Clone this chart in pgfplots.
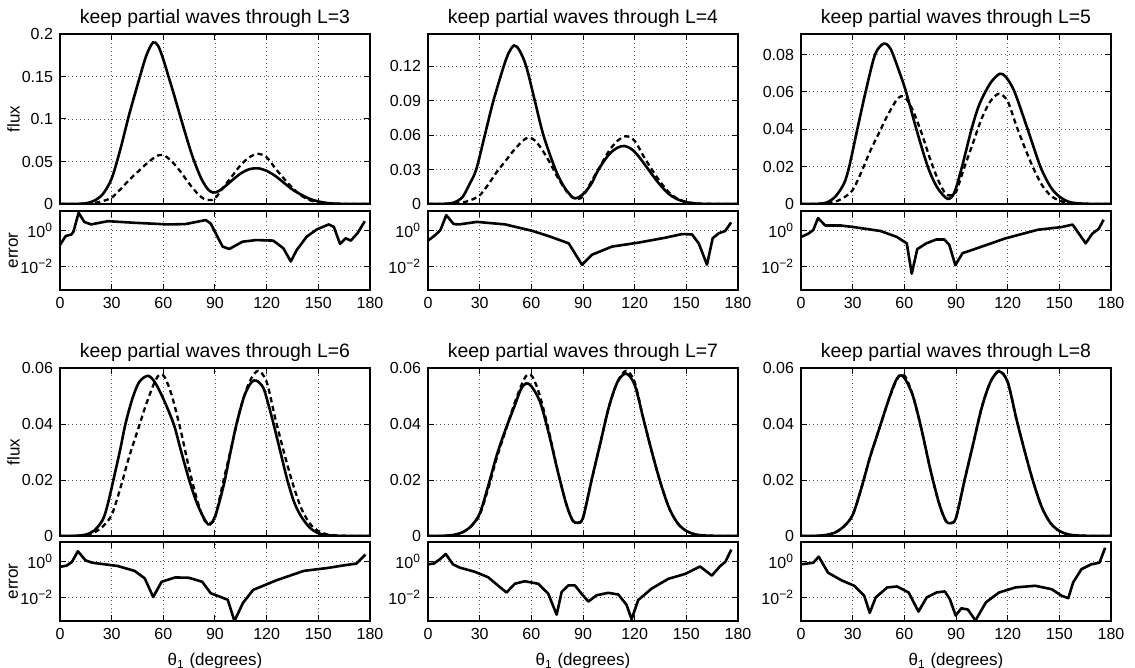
\documentclass[border=0pt]{standalone}
\usepackage{pgfplots}
\pgfplotsset{compat=1.18}
\usepackage{pgfplotstable}
\usepackage{fontspec}
\setmainfont{Liberation Sans}

% exact flux (dashed)
\pgfplotstableread{
x y
0 0
5 0
10 0.0001
15 0.0004
20 0.0013
25 0.0035
30 0.0075
35 0.017
40 0.028
45 0.0375
50 0.047
55 0.055
58 0.0577
61 0.0565
65 0.050
70 0.038
75 0.024
80 0.012
84 0.0055
87 0.0046
90 0.0065
95 0.020
100 0.033
105 0.046
110 0.055
115 0.059
120 0.055
125 0.042
130 0.030
135 0.019
140 0.010
145 0.0045
150 0.0018
155 0.0006
160 0.0002
170 0
180 0
}\exact

\pgfplotstableread{
x y
0 0
10 0.0001
15 0.0008
20 0.004
25 0.012
30 0.03
35 0.064
40 0.104
45 0.14
50 0.174
54 0.19
57 0.186
60 0.17
63 0.15
66 0.13
70 0.102
75 0.068
78 0.05
82 0.03
86 0.017
89 0.0135
92 0.015
96 0.021
100 0.028
105 0.036
110 0.041
115 0.042
120 0.039
125 0.033
130 0.025
135 0.017
140 0.011
145 0.006
150 0.003
155 0.0012
160 0.0004
170 0
180 0
}\fluxA

\pgfplotstableread{
x y
0 0
10 0.0002
15 0.0012
20 0.006
24 0.017
28 0.03
33 0.06
38 0.09
44 0.12
47 0.132
50 0.138
53 0.134
57 0.12
62 0.09
67 0.06
74 0.03
79 0.015
84 0.0058
87 0.0055
91 0.01
95 0.018
99 0.03
105 0.043
110 0.049
114 0.0505
118 0.048
122 0.042
128 0.03
134 0.018
140 0.0085
145 0.004
150 0.0015
155 0.0005
160 0.0001
170 0
180 0
}\fluxB

\pgfplotstableread{
x y
0 0
10 0.0001
15 0.0008
20 0.004
25 0.011
28 0.02
32.7 0.04
37.5 0.06
43 0.08
48 0.0858
52 0.083
57 0.071
61 0.06
67 0.04
73.6 0.02
79 0.009
85 0.0028
89 0.006
93.5 0.02
99 0.04
103 0.052
107 0.06
111 0.066
115.5 0.0697
119 0.068
124 0.06
131.6 0.04
139 0.02
145 0.009
150 0.004
155 0.0013
160 0.0004
170 0
180 0
}\fluxC

\pgfplotstableread{
x y
0 0
10 0.0001
15 0.0005
20 0.002
25 0.006
28 0.012
31 0.02
35 0.031
38 0.04
42 0.049
46 0.055
51 0.0572
55 0.055
60 0.049
66 0.04
70 0.031
75 0.02
80 0.011
86 0.0042
90 0.007
95 0.018
99 0.03
102.5 0.04
107 0.05
111 0.0548
114 0.0555
118 0.053
121 0.047
124 0.04
128 0.03
132 0.02
136 0.012
140 0.007
145 0.003
150 0.001
155 0.0003
160 0.0001
170 0
180 0
}\fluxD

\pgfplotstableread{
x y
0 0
5 0
10 0.0001
15 0.0004
20 0.0013
25 0.0035
30 0.008
35 0.018
40 0.029
45 0.038
50 0.046
54 0.0525
57 0.0545
60 0.0535
65 0.048
70 0.037
75 0.024
80 0.012
84 0.0055
87 0.0048
90 0.0065
95 0.020
100 0.033
105 0.046
110 0.055
115 0.058
120 0.054
125 0.042
130 0.030
135 0.019
140 0.010
145 0.0045
150 0.0018
155 0.0006
160 0.0002
170 0
180 0
}\fluxE

\pgfplotstableread{
x y
0 0
5 0
10 0.0001
15 0.0004
20 0.0013
25 0.0035
30 0.0075
35 0.017
40 0.028
45 0.0375
50 0.047
54 0.054
57 0.0572
60 0.0565
65 0.050
70 0.038
75 0.024
80 0.012
84 0.0055
87 0.0046
90 0.0065
95 0.020
100 0.033
105 0.046
110 0.055
115 0.0588
120 0.055
125 0.042
130 0.030
135 0.019
140 0.010
145 0.0045
150 0.0018
155 0.0006
160 0.0002
170 0
180 0
}\fluxF

% error curves: x, log10(error)
\pgfplotstableread{
x e
0 -0.82
3.3 -0.33
6.7 -0.24
7.8 -0.09
10.8 0.95
14.1 0.45
18 0.31
27.8 0.49
43.5 0.40
63 0.31
72.9 0.33
84.6 0.55
87.5 0.36
94.4 -0.91
98.3 -1.04
106 -0.64
114 -0.55
123.8 -0.58
129.7 -1.0
134 -1.73
137.5 -1.09
143.3 -0.36
149.2 0.04
156 0.31
159 0.18
162.6 -0.76
165.9 -0.45
168.8 -0.58
172.7 -0.18
177 0.49
}\errA

\pgfplotstableread{
x e
0 -0.58
4.3 -0.27
7.2 0
10.6 0.82
14.9 0.33
17.8 0.31
28.5 0.45
44.9 0.31
60.4 -0.04
70 -0.33
81.7 -0.73
89.4 -1.91
95.2 -1.36
106.8 -0.91
122.3 -0.69
137.8 -0.42
147.5 -0.22
153.3 -0.24
157.2 -0.73
162 -1.91
165.3 -0.45
168.8 -0.18
172.6 -0.05
176 0.42
}\errB

\pgfplotstableread{
x e
0 -0.38
4.2 -0.2
7.1 0
9.9 0.66
14.1 0.25
23.3 0.25
30.9 0.16
46.1 -0.05
55.7 -0.38
61.4 -0.73
64.3 -2.4
67.5 -1.05
72.8 -0.73
78.5 -0.52
83.3 -0.52
86.1 -0.82
89.6 -1.93
93.8 -1.27
99.5 -1.09
118.6 -0.46
137.6 0.02
151 0.16
157.7 0.30
165.3 -0.73
169.1 -0.2
172.9 0.07
175.7 0.57
}\errC

\pgfplotstableread{
x e
0 -0.32
3.9 -0.25
6.9 -0.05
10.4 0.54
14.8 0.04
18.7 -0.09
33.4 -0.27
43.3 -0.54
49.2 -0.95
54.1 -1.98
59 -1.14
66.9 -0.9
74.8 -0.92
82.6 -1.14
87.5 -1.77
92.5 -1.95
97.4 -2.13
101.3 -3.3
106.2 -2.31
112.1 -1.59
125.9 -1.05
141.6 -0.54
155.4 -0.38
165.2 -0.23
172.1 -0.14
177.4 0.36
}\errD

\pgfplotstableread{
x e
0 -0.18
3.5 -0.13
6.8 0.09
10.3 0.39
14.5 -0.18
18.4 -0.36
27.2 -0.59
34.9 -0.89
41.7 -1.43
45.6 -1.73
50.4 -1.25
56.2 -1.11
64 -1.25
69.8 -1.79
74.7 -2.95
77.6 -1.7
81.5 -1.34
85.3 -1.34
89.1 -1.79
93.1 -2.23
97.9 -1.88
104.7 -1.75
110.5 -1.84
115.3 -2.41
118.2 -3.2
122.1 -2.14
129.8 -1.52
139.5 -0.98
149.2 -0.71
158 -0.3
164.8 -0.8
169.7 -0.27
172.6 -0.05
176.1 0.63
}\errE

\pgfplotstableread{
x e
0 -0.18
7.1 -0.09
10.3 0.24
15.7 -0.64
23.3 -1.05
30.9 -1.36
36.7 -1.91
39.9 -2.85
43.4 -2.0
50.1 -1.45
55.8 -1.4
62.5 -1.73
68.2 -2.78
73 -2.0
78.7 -1.73
83.5 -1.67
86.4 -2.09
89.8 -3.0
93.1 -2.6
96.9 -2.67
101.3 -3.27
107.4 -2.27
115 -1.73
124.6 -1.45
136 -1.36
145.6 -1.55
151.3 -1.91
155.2 -2.04
158 -1.18
162.8 -0.45
168.5 -0.18
173.3 -0.09
176.6 0.73
}\errF

\pgfplotsset{
  base/.style={scale only axis, width=155pt, xmin=0, xmax=180,
    xtick={0,30,60,90,120,150,180},
    scaled y ticks=false, scaled x ticks=false,
    grid=major, major grid style={black!65, line width=0.45pt, dash pattern=on 0.6pt off 1.4pt},
    axis line style={black, line width=0.9pt},
    tick align=inside, major tick length=3pt, tick style={black, line width=0.5pt},
    tick label style={font=\fontsize{8}{9}\selectfont},
    label style={font=\fontsize{8.5}{10}\selectfont},
    title style={font=\fontsize{9.7}{11}\selectfont, yshift=-6.5pt},
    anchor=north west, clip=true},
  flux/.style={base, height=85pt, xticklabels={}, ymin=0},
  err/.style={base, height=39.5pt, ymin=-3.3, ymax=1.05, ytick={-2,0},
    xticklabels={0,30,60,90,120,150,180},
    yticklabels={10\textsuperscript{−2},10\textsuperscript{0}}},
  sol/.style={black, line width=1.3pt, smooth, tension=0.5, no markers},
  das/.style={black, line width=1.15pt, dash pattern=on 2.6pt off 1.8pt, smooth, tension=0.5, no markers},
  errl/.style={black, line width=1.3pt, no markers, sharp plot, line join=round},
  ylab/.style={ylabel style={at={(axis description cs:-0.15,0.5)}, anchor=center}},
}

\begin{document}
\begin{tikzpicture}
\path[use as bounding box] (0,0) rectangle (567.5pt,-334pt);

% ---------- top row ----------
\begin{axis}[flux, at={(30pt,-17pt)}, ymax=0.2, ytick={0,0.05,0.1,0.15,0.2},
  yticklabels={0,0.05,0.1,0.15,0.2}, title={keep partial waves through L=3}, ylabel={flux}, ylab]
\addplot[das] table[x=x,y=y]{\exact};
\addplot[sol] table[x=x,y=y]{\fluxA};
\end{axis}
\begin{axis}[err, at={(30pt,-105.5pt)}, ylabel={error}, ylab]
\addplot[errl] table[x=x,y=e]{\errA};
\end{axis}

\begin{axis}[flux, at={(214pt,-17pt)}, ymax=0.148, ytick={0,0.03,0.06,0.09,0.12},
  yticklabels={0,0.03,0.06,0.09,0.12}, title={keep partial waves through L=4}]
\addplot[das] table[x=x,y=y]{\exact};
\addplot[sol] table[x=x,y=y]{\fluxB};
\end{axis}
\begin{axis}[err, at={(214pt,-105.5pt)}]
\addplot[errl] table[x=x,y=e]{\errB};
\end{axis}

\begin{axis}[flux, at={(400.5pt,-17pt)}, ymax=0.091, ytick={0,0.02,0.04,0.06,0.08},
  yticklabels={0,0.02,0.04,0.06,0.08}, title={keep partial waves through L=5}]
\addplot[das] table[x=x,y=y]{\exact};
\addplot[sol] table[x=x,y=y]{\fluxC};
\end{axis}
\begin{axis}[err, at={(400.5pt,-105.5pt)}]
\addplot[errl] table[x=x,y=e]{\errC};
\end{axis}

% ---------- bottom row ----------
\begin{axis}[flux, at={(30pt,-184pt)}, height=84pt, ymax=0.06, ytick={0,0.02,0.04,0.06},
  yticklabels={0,0.02,0.04,0.06}, title={keep partial waves through L=6}, ylabel={flux}, ylab]
\addplot[das] table[x=x,y=y]{\exact};
\addplot[sol] table[x=x,y=y]{\fluxD};
\end{axis}
\begin{axis}[err, at={(30pt,-271pt)}, ylabel={error}, ylab, xlabel={θ\textsubscript{1} (degrees)}]
\addplot[errl] table[x=x,y=e]{\errD};
\end{axis}

\begin{axis}[flux, at={(214pt,-184pt)}, height=84pt, ymax=0.06, ytick={0,0.02,0.04,0.06},
  yticklabels={0,0.02,0.04,0.06}, title={keep partial waves through L=7}]
\addplot[das] table[x=x,y=y]{\exact};
\addplot[sol] table[x=x,y=y]{\fluxE};
\end{axis}
\begin{axis}[err, at={(214pt,-271pt)}, xlabel={θ\textsubscript{1} (degrees)}]
\addplot[errl] table[x=x,y=e]{\errE};
\end{axis}

\begin{axis}[flux, at={(400.5pt,-184pt)}, height=84pt, ymax=0.06, ytick={0,0.02,0.04,0.06},
  yticklabels={0,0.02,0.04,0.06}, title={keep partial waves through L=8}]
\addplot[das] table[x=x,y=y]{\exact};
\addplot[sol] table[x=x,y=y]{\fluxF};
\end{axis}
\begin{axis}[err, at={(400.5pt,-271pt)}, xlabel={θ\textsubscript{1} (degrees)}]
\addplot[errl] table[x=x,y=e]{\errF};
\end{axis}
\end{tikzpicture}
\end{document}
